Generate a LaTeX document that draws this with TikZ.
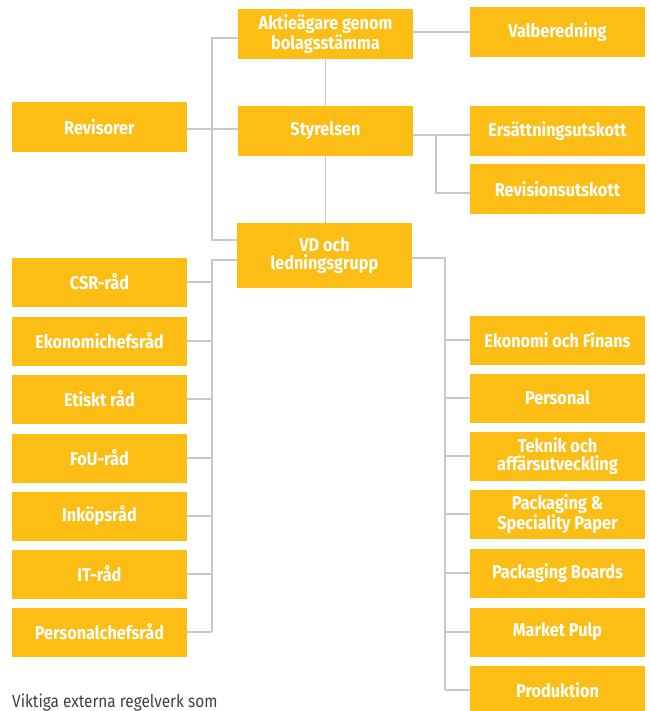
\documentclass[tikz,border=0pt]{standalone}
\usepackage{fontspec}
\setmainfont[FakeStretch=0.88]{Fira Sans}
\definecolor{boxgul}{HTML}{FCBD14}
\definecolor{linjegra}{HTML}{C8C8C8}
\definecolor{textgra}{HTML}{404040}
\tikzset{
  ruta/.style={fill=boxgul, text=white, minimum width=175pt, minimum height=49pt,
    inner sep=0pt, align=center, font=\bfseries\fontsize{18.5}{18.5}\selectfont},
  linje/.style={draw=linjegra, line width=1.6pt}
}
\begin{document}
\begin{tikzpicture}[x=1pt,y=-1pt]
\useasboundingbox (0,0) rectangle (649,711);

% mitten
\node[ruta, minimum height=50pt] (agare) at (325.5,34) {Aktieägare genom\\bolagsstämma};
\node[ruta, minimum height=50pt] (styrelse) at (325.5,131) {Styrelsen};
\node[ruta, minimum height=65pt] (vd) at (324.5,255.5) {VD och\\ledningsgrupp};

% ovan till höger och vänster
\node[ruta, minimum height=50pt] (valb) at (557.5,32) {Valberedning};
\node[ruta, minimum height=50pt] (ersutsk) at (557.5,131) {Ersättningsutskott};
\node[ruta, minimum height=50pt] (revutsk) at (557.5,189) {Revisionsutskott};
\node[ruta, minimum height=50pt] (revisor) at (99.5,127) {Revisorer};

% råd
\node[ruta] (csr) at (99.5,282) {CSR-råd};
\node[ruta] (ekchef) at (99.5,341) {Ekonomichefsråd};
\node[ruta] (etik) at (99.5,399) {Etiskt råd};
\node[ruta] (fou) at (99.5,458) {FoU-råd};
\node[ruta] (inkop) at (99.5,516) {Inköpsråd};
\node[ruta] (itrad) at (99.5,574) {IT-råd};
\node[ruta] (perschef) at (99.5,632) {Personalchefsråd};

% funktioner
\node[ruta] (ekfin) at (557.5,340) {Ekonomi och Finans};
\node[ruta] (pers) at (557.5,398) {Personal};
\node[ruta] (teknik) at (557.5,456) {Teknik och\\affärsutveckling};
\node[ruta] (packsp) at (557.5,514) {Packaging \&\\Speciality Paper};
\node[ruta] (packb) at (557.5,573) {Packaging Boards};
\node[ruta] (pulp) at (557.5,632) {Market Pulp};
\node[ruta] (prod) at (557.5,690) {Produktion};

% linjer (yshift negativ = nedåt)
\coordinate (vo) at (212,38);
\coordinate (vu) at (212,240);
\draw[linje] (agare.west |- vo) -- (vo) -- (vu) -- (vd.west |- vu);
\draw[linje] ([yshift=-2]revisor.east) -- ([yshift=-2]revisor.east -| styrelse.west);
\draw[linje] ([yshift=2]agare.east) -- ([yshift=2]agare.east -| valb.west);
\draw[linje] (agare.south) -- (styrelse.north);
\draw[linje] (styrelse.south) -- (styrelse.south |- vd.north);
\coordinate (ugren) at (436,135);
\draw[linje] (styrelse.east |- ugren) -- (ersutsk.west |- ugren);
\draw[linje] (ugren) -- (436,193) -- (revutsk.west |- 436,193);

\coordinate (vstam) at (212,260);
\draw[linje] (vd.west |- vstam) -- (vstam) -- (vstam |- perschef.east);
\foreach \r in {csr,ekchef,etik,fou,inkop,itrad,perschef}
  \draw[linje] (\r.east) -- (\r.east -| vstam);

\coordinate (hstam) at (445,258);
\draw[linje] (vd.east |- hstam) -- (hstam) -- (hstam |- prod.west);
\foreach \f in {ekfin,pers,teknik,packsp,packb,pulp,prod}
  \draw[linje] (\f.west) -- (\f.west -| hstam);

\node[anchor=base west, inner sep=0pt, text=textgra, font=\fontsize{17.5}{18}\selectfont] (regel) at (12,707.5) {Viktiga externa regelverk som};
\end{tikzpicture}
\end{document}
